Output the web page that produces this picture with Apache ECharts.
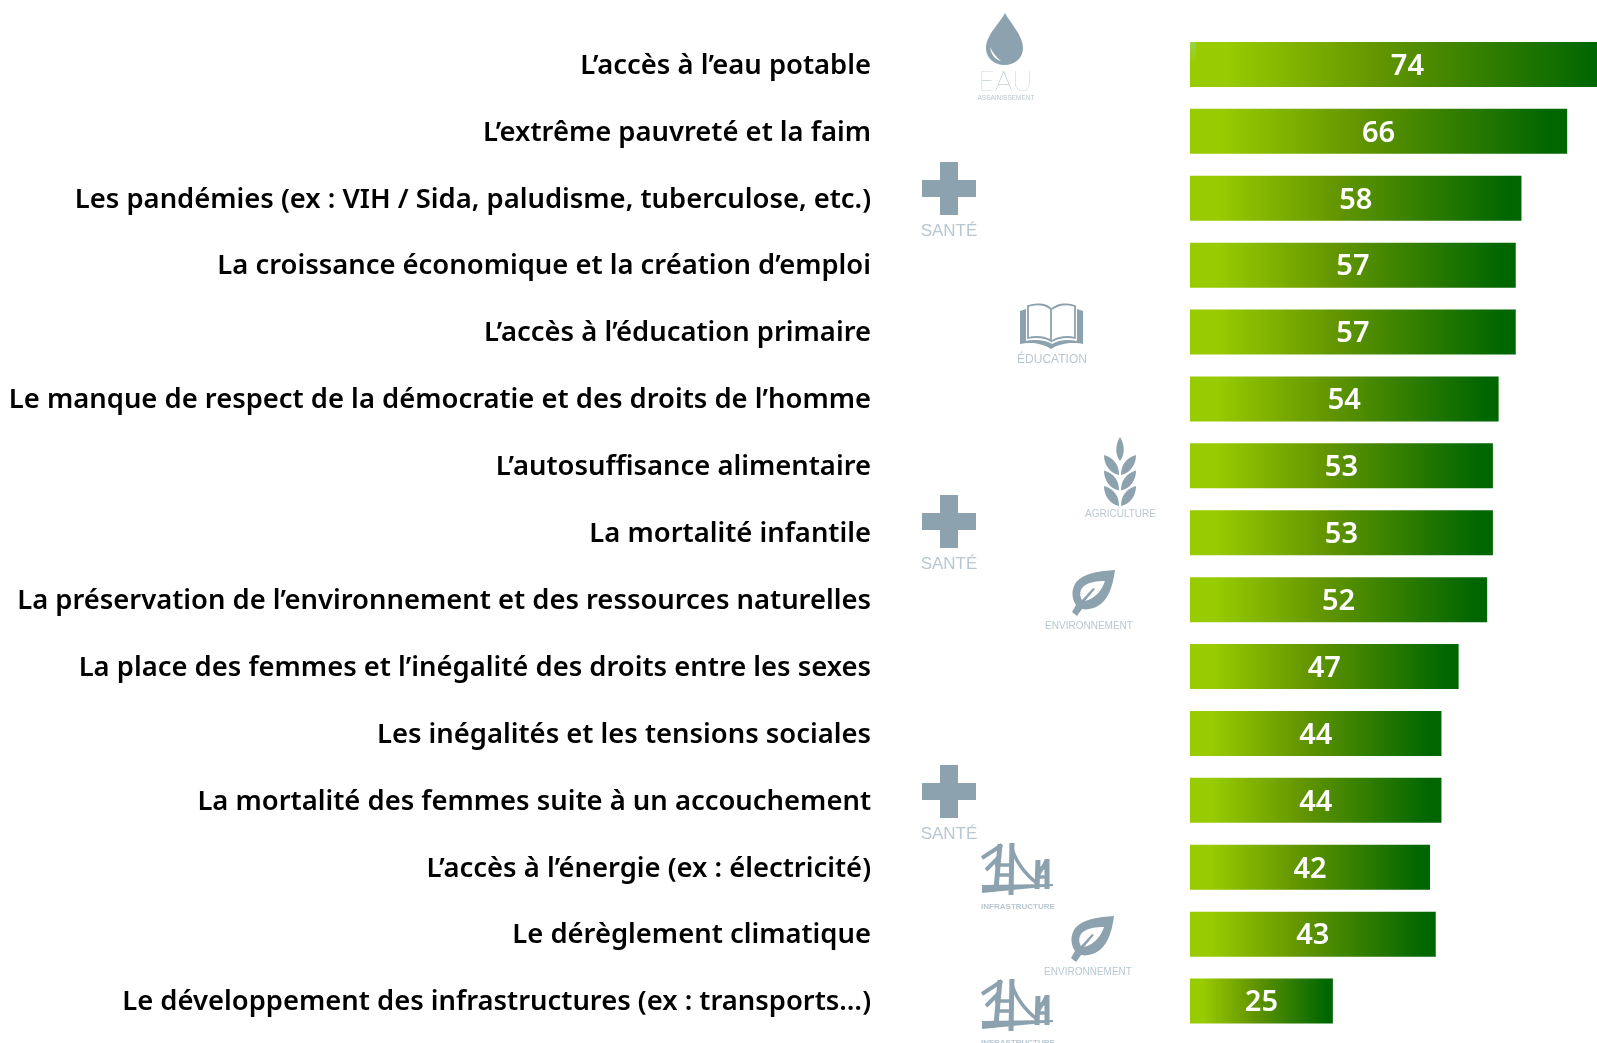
<!DOCTYPE html>
<html>
<head>
<meta charset="utf-8">
<style>html,body{margin:0;padding:0;background:#fff;overflow:hidden}</style>
<script src="https://cdn.jsdelivr.net/npm/echarts@6/dist/echarts.min.js"></script>
</head>
<body>
<div id="main" style="width:1597px;height:1043px"></div>
<script>
var categories = [
  'L’accès à l’eau potable',
  'L’extrême pauvreté et la faim',
  'Les pandémies (ex : VIH / Sida, paludisme, tuberculose, etc.)',
  'La croissance économique et la création d’emploi',
  'L’accès à l’éducation primaire',
  'Le manque de respect de la démocratie et des droits de l’homme',
  'L’autosuffisance alimentaire',
  'La mortalité infantile',
  'La préservation de l’environnement et des ressources naturelles',
  'La place des femmes et l’inégalité des droits entre les sexes',
  'Les inégalités et les tensions sociales',
  'La mortalité des femmes suite à un accouchement',
  'L’accès à l’énergie (ex : électricité)',
  'Le dérèglement climatique',
  'Le développement des infrastructures (ex : transports…)'
];
var values = [74, 66, 58, 57, 57, 54, 53, 53, 52, 47, 44, 44, 42, 43, 25];

var iconDark = '#8ca2ae';
var iconLight = '#b9c7d0';

// graphic has no plain 'path' type, so every icon outline gets registered as a shape
var shapeCount = 0;
function shapeFor(d) {
  var name = 'iconShape' + shapeCount++;
  echarts.graphic.registerShape(name, echarts.graphic.extendPath(d));
  return name;
}
function p(d, fill) {
  return { type: shapeFor(d), style: { fill: fill || iconDark } };
}
function line(d, w) {
  return { type: shapeFor(d), style: { fill: 'none', stroke: iconDark, lineWidth: w } };
}
function word(t, x, y, size, extra) {
  var s = { text: t, x: x, y: y, fill: iconLight, font: size + 'px "Liberation Sans"', textAlign: 'center', textVerticalAlign: 'middle' };
  return { type: 'text', style: Object.assign(s, extra || {}) };
}
function group(x, y, kids) {
  return { type: 'group', x: x, y: y, silent: true, children: kids };
}

function drop(x, y) {
  return group(x, y, [
    p('M19 0C14 10 0 22 0 35C0 45 8 52 18.5 52C29 52 37 45 37 35C37 22 24 10 19 0Z'),
    p('M4 34C5 42 10 47 15 48C10 44 7 40 4 34Z', '#fff'),
    word('EAU', 19.5, 69, 28, { font: '100 28px Lato', fill: '#a9b9c3' }),
    word('ASSAINISSEMENT', 20, 85, 6.5)
  ]);
}
function cross(x, y) {
  return group(x, y, [
    p('M18 0H36V18H54V35H36V53H18V35H0V18H18Z'),
    word('SANTÉ', 27, 69, 17)
  ]);
}
function book(x, y) {
  return group(x, y, [
    line('M8 3C16 0 26 1 31 6V38C26 34 16 33 8 35Z', 1.8),
    line('M32 6C38 1 48 0 55 3V35C48 33 38 34 32 38', 1.8),
    p('M6 6L0 8V41C10 39 22 40 31 46C40 40 54 39 63 41V8L57 6V38C48 36 38 37 32 41C26 37 14 36 6 38Z'),
    word('ÉDUCATION', 32, 57, 12)
  ]);
}
function wheat(x, y) {
  var kids = [p('M16 0C11 8 11 18 16 24C21 18 21 8 16 0Z')];
  [0, 15.5, 31].forEach(function (dy) {
    kids.push(p('M0 ' + (18 + dy) + 'C0 ' + (28 + dy) + ' 6 ' + (36 + dy) + ' 15 ' + (38 + dy) + 'C15 ' + (28 + dy) + ' 10 ' + (21 + dy) + ' 0 ' + (18 + dy) + 'Z'));
    kids.push(p('M32 ' + (18 + dy) + 'C32 ' + (28 + dy) + ' 26 ' + (36 + dy) + ' 17 ' + (38 + dy) + 'C17 ' + (28 + dy) + ' 22 ' + (21 + dy) + ' 32 ' + (18 + dy) + 'Z'));
  });
  kids.push(word('AGRICULTURE', 16.5, 77, 10));
  return group(x, y, kids);
}
function leaf(x, y) {
  return group(x, y, [
    p('M43 0C28 1 10 3 3 14C-1 21 0 29 4 35L0 42L5 46L10 39C20 41 31 35 36 25C40 18 42 8 43 0ZM33 11C30 20 24 28 13 31L23 19L21 18L10 30C7 25 8 19 12 16C17 12 25 11 33 11Z'),
    word('ENVIRONNEMENT', 17, 56, 10)
  ]);
}
function bridge(x, y) {
  return group(x, y, [
    line('M18 1L14 46M30 0L29 52M56 17L55 46M65 16L65 46', 5),
    line('M13 22H29M13 32H29M55 25H65M55 34H65', 3.5),
    line('M20 2L0 15M18 13L4 27', 4),
    line('M29 3C34 20 44 32 56 41M56 33L64 18', 3.5),
    p('M0 42L71 41V43L0 50Z'),
    word('INFRASTRUCTURE', 36, 64, 8, { font: 'bold 8px "Liberation Sans"' })
  ]);
}

var icons = [
  drop(986, 13),
  cross(922, 162),
  book(1020, 303),
  wheat(1104, 437),
  cross(922, 495),
  leaf(1072, 570),
  cross(922, 765),
  bridge(982, 843),
  leaf(1071, 916),
  bridge(982, 979),
  // pale smudge on the corner of the first bar
  { type: 'rect', silent: true, z: 10, shape: { x: 1190, y: 42, width: 6, height: 21 },
    style: { fill: new echarts.graphic.LinearGradient(0, 0, 0, 1, [
      { offset: 0, color: '#9ad24a' }, { offset: 1, color: '#99cc00' }]) } }
];

var barFill = new echarts.graphic.LinearGradient(0, 0, 1, 0, [
  { offset: 0, color: '#99cc00' },
  { offset: 0.08, color: '#99cc00' },
  { offset: 0.45, color: '#629500' },
  { offset: 0.96, color: '#006600' },
  { offset: 1, color: '#006600' }
]);

var myChart = echarts.init(document.getElementById('main'));

var option = {
  animation: false,
  backgroundColor: '#fff',
  grid: { left: 1190, top: 31, width: 571.5, height: 1003.5, containLabel: false, outerBoundsMode: 'none' },
  xAxis: { type: 'value', min: 0, max: 100, show: false },
  yAxis: {
    type: 'category',
    inverse: true,
    data: categories,
    axisLine: { show: false },
    axisTick: { show: false },
    axisLabel: {
      margin: 319,
      color: '#000',
      fontFamily: 'Noto Sans',
      fontWeight: 600,
      fontSize: 27.4,
      align: 'right',
      // text sits a little under the row centre
      verticalAlign: 'top',
      lineHeight: 3
    }
  },
  series: [{
    type: 'bar',
    barWidth: 45,
    data: values.map(function (v, i) {
      // first bar runs off the page, its number sits a bit to the right
      return i === 0 ? { value: v, label: { offset: [6, 2] } } : v;
    }),
    itemStyle: { color: barFill },
    label: {
      show: true,
      position: 'inside',
      offset: [0, 2],
      color: '#fff',
      fontFamily: 'Noto Sans',
      fontWeight: 600,
      fontSize: 29
    }
  }],
  graphic: icons
};

myChart.setOption(option);
</script>
</body>
</html>
